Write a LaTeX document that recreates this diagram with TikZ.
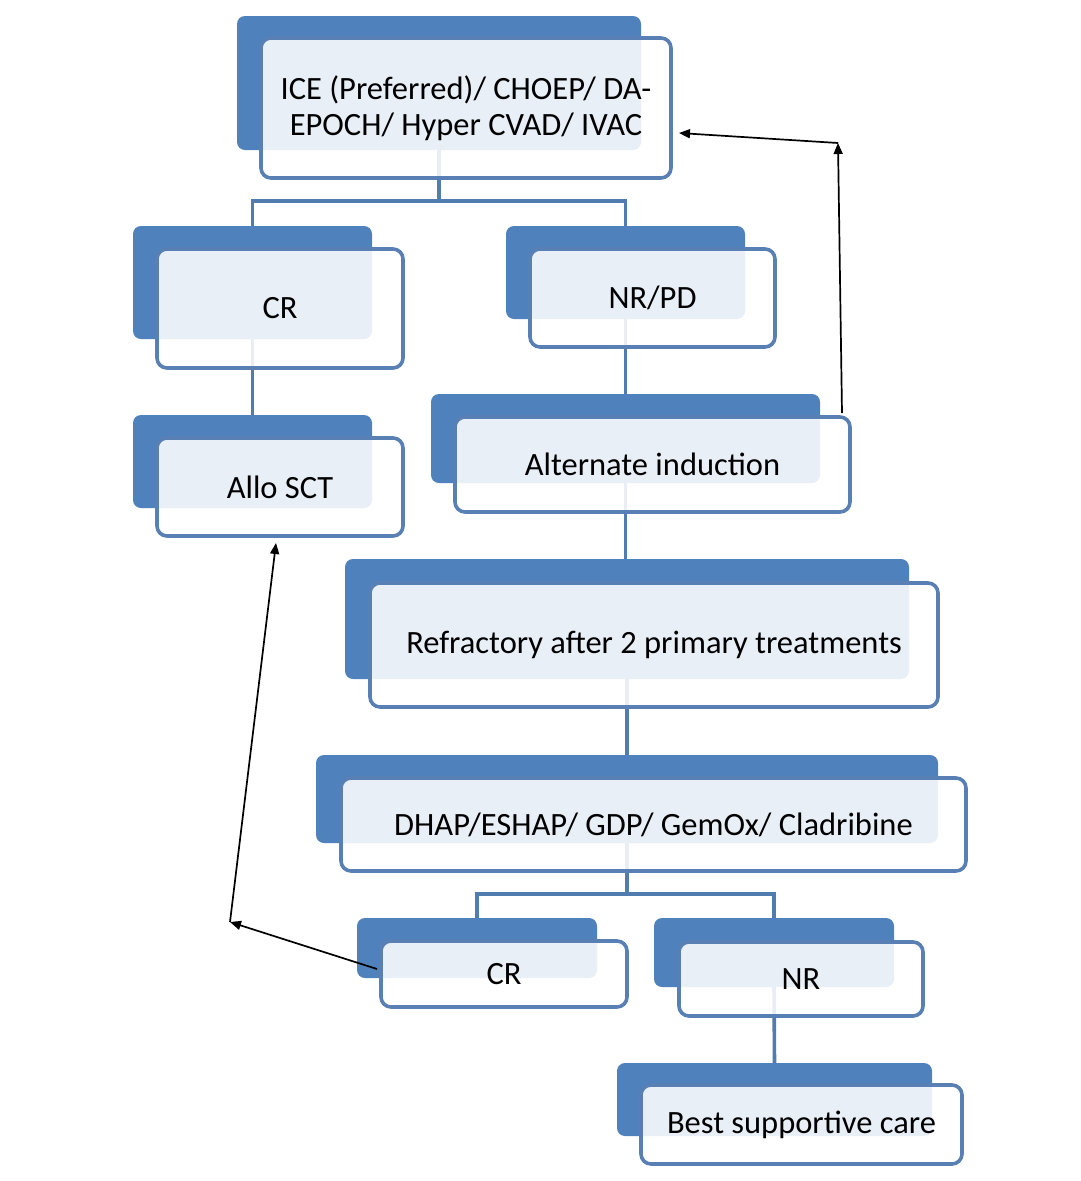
\documentclass[tikz,border=0pt]{standalone}
\usepackage{fontspec}
\setmainfont{Carlito}
\usetikzlibrary{arrows.meta}
\definecolor{accent}{RGB}{79,129,189}
\definecolor{edgeblue}{RGB}{88,128,180}
\definecolor{connblue}{RGB}{80,124,176}
\pgfdeclarelayer{bg}
\pgfsetlayers{bg,main}
\newcommand\bk[5]{\node[backbox,minimum width={(#4-#2)*1pt},minimum height={(#5-#3)*1pt}] (#1) at ({(#2+#4)/2},{(#3+#5)/2}) {};}
\newcommand\fr[6]{\node[frontbox,minimum width={(#4-#2)*1pt},minimum height={(#5-#3)*1pt}] (#1) at ({(#2+#4)/2},{(#3+#5)/2}) {#6};}
\begin{document}
\begin{tikzpicture}[x=1pt,y=-1pt,
  backbox/.style={rectangle,fill=accent,draw=none,rounded corners=8pt,inner sep=0pt,outer sep=0pt},
  frontbox/.style={rectangle,fill=white,fill opacity=0.875,text opacity=1,draw=edgeblue,line width=3.6pt,rounded corners=10pt,inner sep=0pt,outer sep=0pt,align=center,font=\fontsize{32.5}{36}\selectfont},
  conn/.style={draw=connblue,line width=3.6pt},
  arr/.style={draw=black,line width=1.7pt,-{Triangle[length=11pt,width=9pt]}}]
\useasboundingbox (0,0) rectangle (1080,1181);
% back boxes
\bk{iceb}{237}{16}{641}{150}
\bk{cra}{133}{226}{372}{339}
\bk{nrpdb}{506}{226}{745}{319}
\bk{allob}{133}{415}{372}{508}
\bk{altb}{431}{394}{820}{483}
\bk{refb}{345}{559}{909}{679}
\bk{dhapb}{316}{755}{938}{843}
\bk{crbb}{357}{918}{597}{978}
\bk{nrb}{654}{918}{894}{987}
\bk{bestb}{617}{1063}{932}{1136}
% front boxes
\fr{icef}{261}{38}{671}{178}{ICE (Preferred)/ CHOEP/ DA-\\EPOCH/ Hyper CVAD/ IVAC}
\fr{craf}{157}{249}{403}{368}{CR}
\fr{nrpdf}{530}{249}{775}{347}{NR/PD}
\fr{allof}{157}{438}{403}{536}{Allo SCT}
\fr{altf}{455}{417}{850}{512}{Alternate induction}
\fr{reff}{370}{583}{938}{707}{Refractory after 2 primary treatments}
\fr{dhapf}{341}{778}{966}{871}{DHAP/ESHAP/ GDP/ GemOx/ Cladribine}
\fr{crbf}{381}{941}{627}{1007}{CR}
\fr{nrf}{679}{942}{923}{1016}{NR}
\fr{bestf}{641}{1085}{962}{1164}{Best supportive care}
% connectors (behind boxes)
\coordinate (j1) at (439,201);
\coordinate (j2) at (627,894);
\begin{pgfonlayer}{bg}
\fill[white] (0,0) rectangle (1080,1181);
\draw[conn] (iceb.south) -- (j1);
\draw[conn] (j1) -| (cra.north);
\draw[conn] (j1) -| (nrpdb.north);
\draw[conn] (cra.south) -- (allob.north);
\draw[conn] (nrpdb.south) -- (altb.north);
\draw[conn] (altb.south) -- (altb.south |- refb.north);
\draw[conn] (refb.south) -- (dhapb.north);
\draw[conn] (dhapb.south) -- (j2);
\draw[conn] (j2) -| (crbb.north);
\draw[conn] (j2) -| (nrb.north);
\draw[conn] (nrb.south) -- (bestb.north);
\end{pgfonlayer}
% feedback arrows
\coordinate (k1) at (838,143);
\coordinate (k2) at (230,922);
\draw[arr] ([xshift=-8pt,yshift=4pt]altf.north east) -- (k1);
\draw[arr] (k1) -- ([xshift=8pt,yshift=-25pt]icef.east);
\draw[arr] ([xshift=-4pt,yshift=5pt]crbf.west) -- (k2);
\draw[arr] (k2) -- ([xshift=-4pt,yshift=-7pt]allof.south);
\end{tikzpicture}
\end{document}
